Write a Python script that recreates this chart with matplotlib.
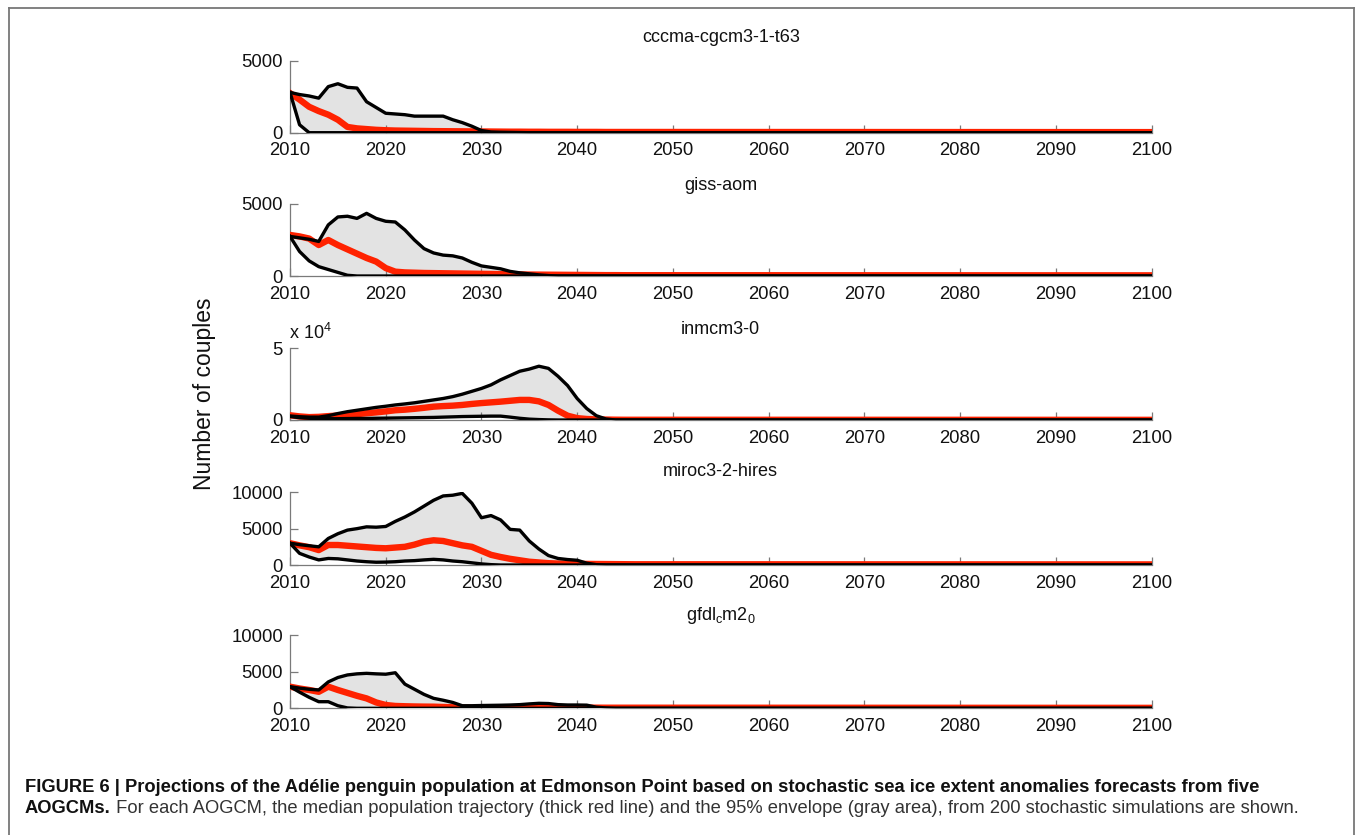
import matplotlib
matplotlib.use("Agg")
import matplotlib.pyplot as plt
from matplotlib.lines import Line2D

plt.rcParams['font.family'] = ['Liberation Sans', 'DejaVu Sans']
plt.rcParams['mathtext.fontset'] = 'custom'
plt.rcParams['mathtext.rm'] = 'Liberation Sans'
plt.rcParams['mathtext.it'] = 'Liberation Sans'

# ---------------- data ----------------
YEARS = list(range(2010, 2047)) + [2100]

MODELS = ["cccma-cgcm3-1-t63", "giss-aom", "inmcm3-0", "miroc3-2-hires",
          r"gfdl$_\mathrm{c}$m2$_\mathrm{0}$"]

# cccma-cgcm3-1-t63
cccma_upper = [2800, 2650, 2550, 2400, 3200, 3400, 3150, 3100, 2150, 1750,
               1350, 1300, 1250, 1150, 1150, 1150, 1150, 900, 700, 450,
               150, 50, 30, 20, 10, 0, 0, 0, 0, 0,
               0, 0, 0, 0, 0, 0, 0, 0]
cccma_lower = [2800, 550, 0, 0, 0, 0, 0, 0, 0, 0,
               0, 0, 0, 0, 0, 0, 0, 0, 0, 0,
               0, 0, 0, 0, 0, 0, 0, 0, 0, 0,
               0, 0, 0, 0, 0, 0, 0, 0]
cccma_median = [2750, 2300, 1800, 1500, 1250, 900, 400, 300, 250, 200,
                170, 150, 140, 130, 120, 110, 105, 100, 95, 90,
                85, 80, 75, 70, 70, 65, 65, 60, 60, 60,
                55, 55, 55, 50, 50, 50, 50, 40]

# giss-aom
giss_upper = [2750, 2650, 2550, 2400, 3550, 4100, 4150, 4000, 4350, 4000,
              3800, 3750, 3200, 2500, 1900, 1600, 1450, 1400, 1250, 950,
              700, 600, 500, 320, 220, 150, 80, 30, 0, 0,
              0, 0, 0, 0, 0, 0, 0, 0]
giss_lower = [2750, 1700, 1050, 650, 450, 250, 50, 0, 0, 0,
              0, 0, 0, 0, 0, 0, 0, 0, 0, 0,
              0, 0, 0, 0, 0, 0, 0, 0, 0, 0,
              0, 0, 0, 0, 0, 0, 0, 0]
giss_median = [2850, 2750, 2600, 2150, 2500, 2150, 1850, 1550, 1250, 1000,
               550, 300, 250, 230, 210, 200, 190, 180, 170, 160,
               150, 140, 130, 120, 110, 100, 95, 90, 85, 80,
               75, 70, 65, 60, 60, 55, 55, 45]

# inmcm3-0
inmcm_upper = [2800, 2300, 2000, 2000, 3000, 4500, 5800, 6800, 7800, 8800,
               9600, 10500, 11200, 12000, 13000, 14000, 15000, 16300, 18000, 20000,
               22000, 24500, 28000, 31000, 34000, 35500, 37500, 36000, 30500, 24000,
               15000, 8000, 3000, 700, 0, 0, 0, 0]
inmcm_lower = [2500, 1600, 1200, 1000, 900, 900, 1000, 1100, 1100, 1200,
               1300, 1400, 1500, 1600, 1700, 1800, 2000, 2200, 2400, 2500,
               2600, 2700, 2700, 2000, 1200, 600, 300, 100, 0, 0,
               0, 0, 0, 0, 0, 0, 0, 0]
inmcm_median = [3300, 2500, 2000, 2200, 2700, 3100, 3600, 4100, 4700, 5300,
                6000, 6800, 7200, 7800, 8500, 9300, 9700, 10000, 10500, 11200,
                11800, 12300, 12800, 13400, 14000, 14000, 13000, 10500, 6500, 3000,
                1300, 700, 400, 300, 200, 150, 150, 100]

# miroc3-2-hires
miroc_upper = [3000, 2800, 2650, 2500, 3650, 4300, 4800, 5000, 5250, 5200,
               5300, 6000, 6600, 7300, 8100, 8900, 9500, 9600, 9850, 8500,
               6500, 6800, 6200, 4900, 4800, 3300, 2200, 1300, 900, 750,
               650, 250, 50, 0, 0, 0, 0, 0]
miroc_lower = [3000, 1600, 1100, 700, 900, 850, 700, 550, 450, 380,
               400, 450, 550, 600, 700, 780, 700, 550, 450, 300,
               150, 50, 0, 0, 0, 0, 0, 0, 0, 0,
               0, 0, 0, 0, 0, 0, 0, 0]
miroc_median = [3000, 2700, 2450, 2050, 2750, 2750, 2650, 2550, 2450, 2350,
                2300, 2400, 2500, 2800, 3200, 3400, 3300, 3000, 2700, 2500,
                1950, 1400, 1100, 850, 650, 450, 350, 250, 200, 180,
                160, 150, 140, 130, 120, 110, 100, 80]

# gfdl_cm2_0
gfdl_upper = [2950, 2750, 2600, 2500, 3600, 4200, 4550, 4700, 4770, 4700,
              4650, 4850, 3300, 2600, 1900, 1360, 1100, 800, 350, 350,
              380, 400, 420, 450, 500, 600, 680, 650, 500, 450,
              450, 430, 150, 50, 0, 0, 0, 0]
gfdl_lower = [2950, 2200, 1500, 900, 900, 350, 50, 0, 0, 0,
              0, 0, 0, 0, 0, 0, 0, 0, 0, 0,
              0, 0, 0, 0, 0, 0, 0, 0, 0, 0,
              0, 0, 0, 0, 0, 0, 0, 0]
gfdl_median = [2950, 2700, 2500, 2250, 2950, 2500, 2100, 1700, 1350, 800,
               450, 320, 280, 250, 230, 220, 180, 140, 80, 60,
               60, 60, 60, 60, 60, 60, 250, 300, 100, 90,
               90, 85, 85, 80, 80, 80, 80, 60]

UPPERS = [cccma_upper, giss_upper, inmcm_upper, miroc_upper, gfdl_upper]
LOWERS = [cccma_lower, giss_lower, inmcm_lower, miroc_lower, gfdl_lower]
MEDIANS = [cccma_median, giss_median, inmcm_median, miroc_median, gfdl_median]

YMAX = [5000, 5000, 50000, 10000, 10000]
YTICKS = [[0, 5000], [0, 5000], [0, 50000], [0, 5000, 10000], [0, 5000, 10000]]
YTICKLABELS = [["0", "5000"], ["0", "5000"], ["0", "5"],
               ["0", "5000", "10000"], ["0", "5000", "10000"]]
XTICKS = list(range(2010, 2101, 10))

CAPTION_BOLD1 = ("FIGURE 6 | Projections of the Adélie penguin population at Edmonson Point "
                 "based on stochastic sea ice extent anomalies forecasts from five")
CAPTION_BOLD2 = "AOGCMs."
CAPTION_REG2 = (" For each AOGCM, the median population trajectory (thick red line) and the "
                "95% envelope (gray area), from 200 stochastic simulations are shown.")

# ---------------- figure ----------------
W, H = 1355, 835
fig = plt.figure(figsize=(W / 100, H / 100), dpi=100)

def fx(px):
    return px / W

def fy(py):
    return 1 - py / H

AX_LEFT, AX_RIGHT = 290, 1151.5
PANELS = [(60.7, 132.7), (204, 276), (348.3, 420), (492.3, 565), (635, 708.3)]
TITLE_Y = [38, 185, 329, 472, 615]

spine_col = "#7a7a7a"
for i in range(5):
    top, bot = PANELS[i]
    ax = fig.add_axes([fx(AX_LEFT), fy(bot), fx(AX_RIGHT) - fx(AX_LEFT), (bot - top) / H])
    ax.fill_between(YEARS, LOWERS[i], UPPERS[i], color="#e3e3e3", lw=0, zorder=1)
    ax.plot(YEARS, MEDIANS[i], color="#ff2200", lw=4.6, solid_joinstyle="round", zorder=2)
    ax.plot(YEARS, UPPERS[i], color="black", lw=2.4, solid_joinstyle="round", zorder=3)
    ax.plot(YEARS, LOWERS[i], color="black", lw=2.4, solid_joinstyle="round", zorder=3)
    ax.set_xlim(2010, 2100)
    ax.set_ylim(0, YMAX[i])
    ax.set_xticks(XTICKS)
    ax.set_xticklabels([str(t) for t in XTICKS])
    ax.set_yticks(YTICKS[i])
    ax.set_yticklabels(YTICKLABELS[i])
    for s in ["top", "right"]:
        ax.spines[s].set_visible(False)
    for s in ["left", "bottom"]:
        ax.spines[s].set_color(spine_col)
        ax.spines[s].set_linewidth(0.9)
        ax.spines[s].set_zorder(0.5)
    ax.tick_params(axis="x", direction="in", length=6, width=0.9, color=spine_col,
                   labelsize=13.3, pad=7, labelcolor="#111111")
    ax.tick_params(axis="y", direction="in", length=6, width=0.9, color=spine_col,
                   labelsize=13.3, pad=5, labelcolor="#111111")
    ax.patch.set_alpha(0)
    fig.text(fx((AX_LEFT + AX_RIGHT) / 2), fy(TITLE_Y[i]), MODELS[i], ha="center",
             va="center", fontsize=13, color="#111111")

# exponent label
fig.text(fx(289), fy(339), r"x 10$^{4}$", ha="left", va="baseline", fontsize=13,
         color="#111111")

# y label
fig.text(fx(205), fy(394), "Number of couples", rotation=90, ha="center", va="center",
         fontsize=16.5, color="#111111")

# border
bc = "#777777"
fig.add_artist(Line2D([fx(9), fx(9)], [fy(7.5), 0], transform=fig.transFigure, color=bc, lw=1.3))
fig.add_artist(Line2D([fx(9), fx(1353.5)], [fy(7.5), fy(7.5)], transform=fig.transFigure, color=bc, lw=1.3))
fig.add_artist(Line2D([fx(1353.5), fx(1353.5)], [fy(7.5), 0], transform=fig.transFigure, color=bc, lw=1.3))

# caption
CAP_FS = 13.2
fig.text(fx(25), fy(792), CAPTION_BOLD1, ha="left", va="baseline", fontsize=CAP_FS,
         fontweight="bold", color="#111111")
t2 = fig.text(fx(25), fy(813), CAPTION_BOLD2, ha="left", va="baseline", fontsize=CAP_FS,
              fontweight="bold", color="#111111")
renderer = fig.canvas.get_renderer()
bb = t2.get_window_extent(renderer=renderer)
fig.text(bb.x1 / W, fy(813), CAPTION_REG2, ha="left", va="baseline", fontsize=CAP_FS,
         color="#333333")

fig.savefig("out.png", dpi=100)
